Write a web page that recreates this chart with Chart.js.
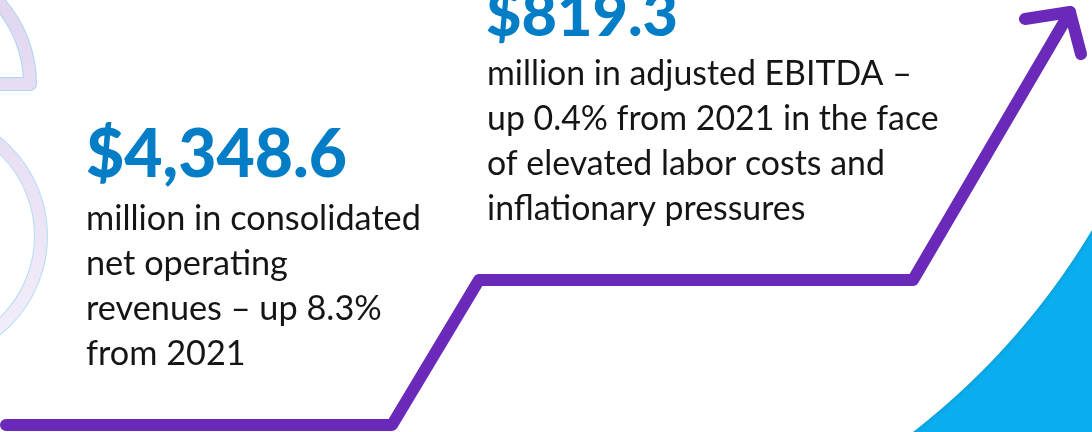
<!DOCTYPE html>
<html>
<head>
<meta charset="utf-8">
<script src="https://cdn.jsdelivr.net/npm/chart.js@4/dist/chart.umd.min.js"></script>
<style>
html,body{margin:0;padding:0;background:#fff;}
#wrap{position:relative;width:1092px;height:432px;overflow:hidden;}
</style>
</head>
<body>
<div id="wrap"><canvas id="c"></canvas></div>
<script>
// Step "growth" arrow path (x across, y up from bottom)
const stepX = [6, 392, 479, 913, 1070];
const stepY = [7, 7, 152, 152, 420];
// Arrow head
const headX = [1025, 1070, 1081];
const headY = [413, 420, 378];

// Figures
const headlines = ['$4,348.6', '$819.3'];
const leftLines = ['million in consolidated', 'net operating', 'revenues \u2013 up 8.3%', 'from 2021'];
const rightLines = ['million in adjusted EBITDA \u2013', 'up 0.4% from 2021 in the face', 'of elevated labor costs and', 'inflationary pressures'];

const PURPLE = '#6a29b8';
const BLUE_TXT = '#037dc6';
const SKY = '#0aaeef';
const FONT = 'Lato';

function fitFont(ctx, text, weight, target) {
  ctx.font = weight + ' 100px ' + FONT;
  const w = ctx.measureText(text).width;
  return 100 * target / w;
}

const decor = {
  id: 'decor',
  beforeDraw(chart) {
    const ctx = chart.ctx;
    ctx.save();
    ctx.fillStyle = '#fff';
    ctx.fillRect(0, 0, chart.width, chart.height);
    // blue region outside big circle (bottom-right)
    ctx.save();
    ctx.beginPath();
    ctx.rect(860, 0, 240, 432);
    ctx.clip();
    ctx.fillStyle = SKY;
    ctx.fillRect(860, 0, 240, 432);
    ctx.shadowColor = 'rgba(0,0,0,0.18)';
    ctx.shadowBlur = 5;
    ctx.fillStyle = '#fff';
    ctx.beginPath();
    ctx.arc(463.6, -146.5, 732.6, 0, Math.PI * 2);
    ctx.fill();
    ctx.restore();

    // decorative left outlines
    ctx.lineJoin = 'round';
    ctx.lineCap = 'round';
    const g1 = ctx.createLinearGradient(0, 0, 0, 95);
    g1.addColorStop(0, '#e2d6f0');
    g1.addColorStop(1, '#e6ddf3');
    ctx.beginPath();
    ctx.arc(-92, 84, 122, Math.PI, 0);
    ctx.closePath();
    ctx.strokeStyle = '#a9d7f1';
    ctx.lineWidth = 14;
    ctx.stroke();
    ctx.strokeStyle = g1;
    ctx.lineWidth = 12;
    ctx.stroke();
    const g2 = ctx.createLinearGradient(0, 110, 0, 360);
    g2.addColorStop(0, '#e6dcf2');
    g2.addColorStop(1, '#f3effb');
    ctx.beginPath();
    ctx.arc(-79, 236, 120, 0, Math.PI * 2);
    ctx.strokeStyle = '#b3dcf3';
    ctx.lineWidth = 14;
    ctx.stroke();
    ctx.strokeStyle = g2;
    ctx.lineWidth = 12;
    ctx.stroke();
    ctx.restore();
  },
  afterDraw(chart) {
    const ctx = chart.ctx;
    ctx.save();
    ctx.textBaseline = 'alphabetic';
    ctx.textAlign = 'left';
    ctx.fillStyle = BLUE_TXT;
    let s = fitFont(ctx, headlines[0], '900', 261);
    ctx.font = '900 ' + s + 'px ' + FONT;
    ctx.fillText(headlines[0], 86, 177);
    s = fitFont(ctx, headlines[1], '900', 192);
    ctx.font = '900 ' + s + 'px ' + FONT;
    ctx.fillText(headlines[1], 486, 36);
    ctx.fillStyle = '#151515';
    s = fitFont(ctx, leftLines[0], 'normal', 335);
    ctx.font = 'normal ' + s + 'px ' + FONT;
    leftLines.forEach((t, i) => ctx.fillText(t, 86, 230 + i * 45));
    s = fitFont(ctx, rightLines[0], 'normal', 425);
    ctx.font = 'normal ' + s + 'px ' + FONT;
    rightLines.forEach((t, i) => ctx.fillText(t, 487, 85 + i * 45));
    ctx.restore();
  }
};

const toPts = (xs, ys) => xs.map((x, i) => ({x: x, y: ys[i]}));

new Chart(document.getElementById('c'), {
  type: 'line',
  data: {
    datasets: [
      {
        data: toPts(stepX, stepY),
        borderColor: PURPLE,
        borderWidth: 12,
        borderCapStyle: 'round',
        borderJoinStyle: 'round',
        pointRadius: 0,
        tension: 0,
        fill: false,
        clip: false
      },
      {
        data: toPts(headX, headY),
        borderColor: PURPLE,
        borderWidth: 12,
        borderCapStyle: 'round',
        borderJoinStyle: 'round',
        pointRadius: 0,
        tension: 0,
        fill: false,
        clip: false
      }
    ]
  },
  options: {
    responsive: true,
    maintainAspectRatio: false,
    animation: false,
    events: [],
    layout: {padding: 0},
    plugins: {legend: {display: false}, tooltip: {enabled: false}},
    scales: {
      x: {type: 'linear', min: 0, max: 1092, display: false},
      y: {type: 'linear', min: 0, max: 432, display: false}
    }
  },
  plugins: [decor]
});
</script>
</body>
</html>
